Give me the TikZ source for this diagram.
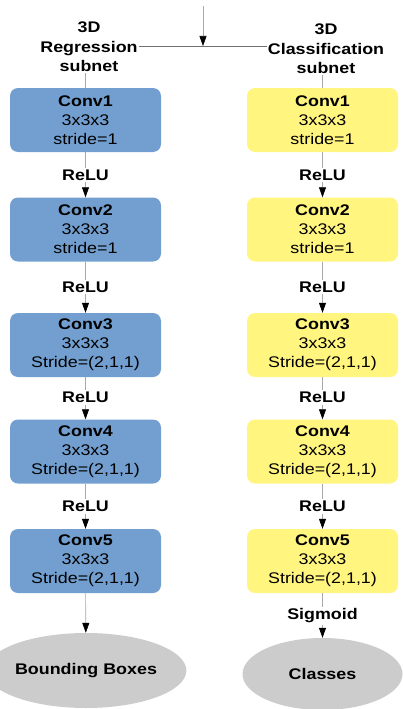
\documentclass[tikz,border=0pt]{standalone}
\usepackage{fontspec}
\setmainfont{Liberation Sans}[FakeStretch=1.16]
\usetikzlibrary{arrows.meta,shapes.geometric}
\definecolor{boxblue}{HTML}{729FCF}
\definecolor{boxyellow}{HTML}{FFF57F}
\definecolor{ellgray}{HTML}{CCCCCC}
\definecolor{linegray}{HTML}{A8A8A8}
\definecolor{darkline}{HTML}{707070}
\begin{document}
\begin{tikzpicture}[x=1pt,y=-1pt,
  font=\fontsize{15.4}{19}\selectfont,
  convbox/.style={rounded corners=8pt, minimum width=151pt, minimum height=64pt, inner sep=0pt, align=center, text=black},
  regbox/.style={convbox, fill=boxblue},
  clsbox/.style={convbox, fill=boxyellow},
  actlabel/.style={font=\fontsize{15.4}{19}\selectfont\bfseries, inner sep=1.5pt},
  titlelabel/.style={font=\fontsize{15.4}{19.5}\selectfont\bfseries, align=center, inner sep=1pt},
  conn/.style={draw=linegray, line width=0.6pt},
  arr/.style={conn, -{Triangle[width=7pt,length=10pt,color=black]}},
  outell/.style={ellipse, fill=ellgray, inner sep=0pt, font=\fontsize{15.4}{19}\selectfont\bfseries}
]
\useasboundingbox (0,0) rectangle (402,709);

% titles
\node[titlelabel] (tl) at (89,47) {3D\\Regression\\subnet};
\node[titlelabel] (tr) at (326,49) {3D\\Classification\\subnet};
\coordinate (top) at (203,6);
\coordinate (join) at (203,46);
\draw[draw=darkline, line width=0.6pt] (tl.east |- join) -- (tr.west |- join);
\draw[arr] (top) -- (join);

% left column
\node[regbox] (l1) at (85.5,120) {\textbf{Conv1}\\3x3x3\\stride=1};
\node[regbox] (l2) at (85.5,229.5) {\textbf{Conv2}\\3x3x3\\stride=1};
\node[regbox] (l3) at (85.5,345) {\textbf{Conv3}\\3x3x3\\Stride=(2,1,1)};
\node[regbox] (l4) at (85.5,451.5) {\textbf{Conv4}\\3x3x3\\Stride=(2,1,1)};
\node[regbox] (l5) at (85.5,561) {\textbf{Conv5}\\3x3x3\\Stride=(2,1,1)};
\node[actlabel] (lr1) at (85.5,175) {ReLU};
\node[actlabel] (lr2) at (85.5,287) {ReLU};
\node[actlabel] (lr3) at (85.5,397.5) {ReLU};
\node[actlabel] (lr4) at (85.5,506.5) {ReLU};
\node[outell, minimum width=166pt, minimum height=75pt] (lout) at (86,670.5) {Bounding Boxes};

% right column
\node[clsbox] (r1) at (322.5,120) {\textbf{Conv1}\\3x3x3\\stride=1};
\node[clsbox] (r2) at (322.5,229.5) {\textbf{Conv2}\\3x3x3\\stride=1};
\node[clsbox] (r3) at (322.5,345) {\textbf{Conv3}\\3x3x3\\Stride=(2,1,1)};
\node[clsbox] (r4) at (322.5,451.5) {\textbf{Conv4}\\3x3x3\\Stride=(2,1,1)};
\node[clsbox] (r5) at (322.5,561) {\textbf{Conv5}\\3x3x3\\Stride=(2,1,1)};
\node[actlabel] (rr1) at (322.5,175) {ReLU};
\node[actlabel] (rr2) at (322.5,287) {ReLU};
\node[actlabel] (rr3) at (322.5,397.5) {ReLU};
\node[actlabel] (rr4) at (322.5,506.5) {ReLU};
\node[actlabel] (sig) at (322.5,616) {Sigmoid};
\node[outell, minimum width=160pt, minimum height=72pt] (rout) at (322.5,674) {Classes};

% title connectors
\draw[conn] (tl.south -| l1.north) -- (l1.north);
\draw[conn] (tr.south -| r1.north) -- (r1.north);

% left connectors
\draw[conn] (l1) -- (lr1); \draw[arr] (lr1) -- (l2);
\draw[conn] (l2) -- (lr2); \draw[arr] (lr2) -- (l3);
\draw[conn] (l3) -- (lr3); \draw[arr] (lr3) -- (l4);
\draw[conn] (l4) -- (lr4); \draw[arr] (lr4) -- (l5);
\draw[arr] (l5) -- (lout);

% right connectors
\draw[conn] (r1) -- (rr1); \draw[arr] (rr1) -- (r2);
\draw[conn] (r2) -- (rr2); \draw[arr] (rr2) -- (r3);
\draw[conn] (r3) -- (rr3); \draw[arr] (rr3) -- (r4);
\draw[conn] (r4) -- (rr4); \draw[arr] (rr4) -- (r5);
\draw[conn] (r5) -- (sig); \draw[arr] (sig) -- (rout);
\end{tikzpicture}
\end{document}
